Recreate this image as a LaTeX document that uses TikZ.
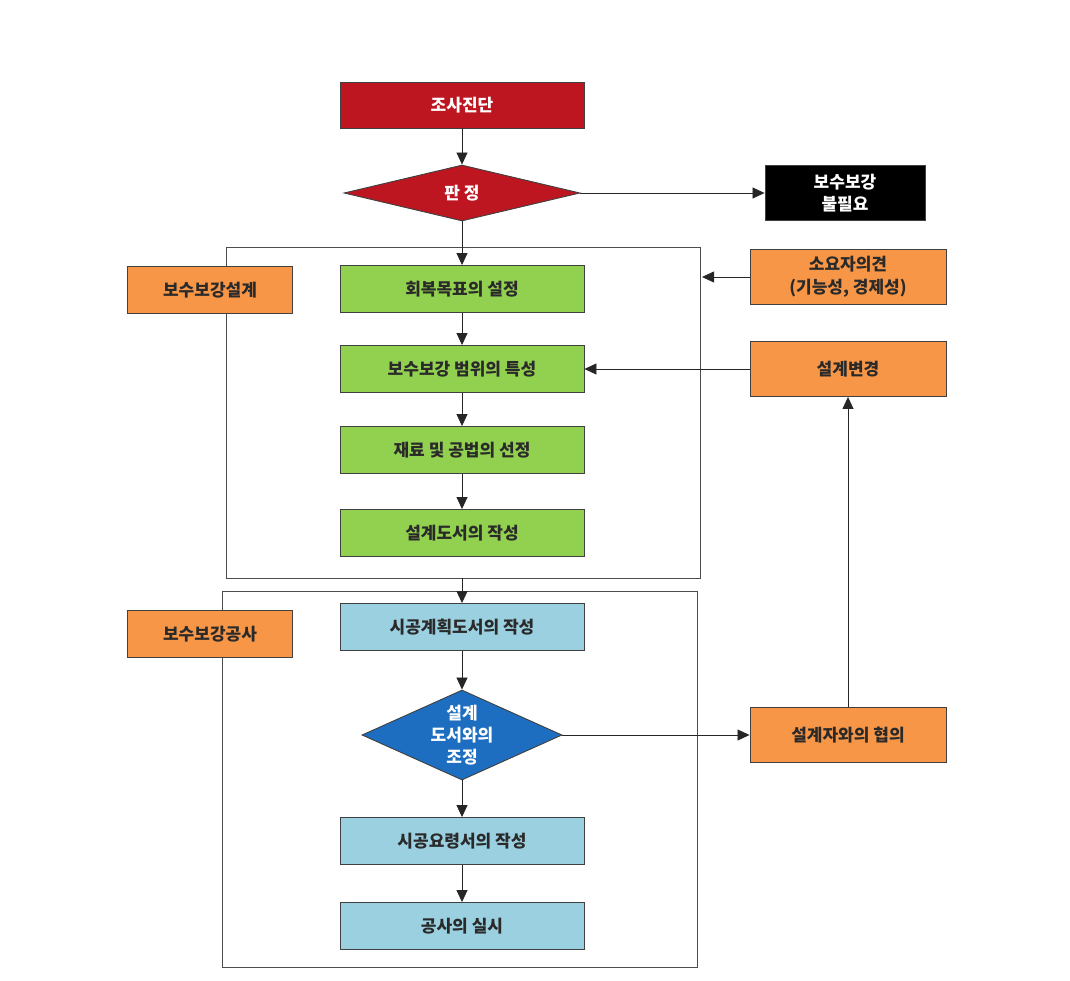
\documentclass[tikz,border=0pt]{standalone}
\usepackage{fontspec}
\setmainfont{Noto Sans CJK KR}
\usetikzlibrary{arrows.meta,shapes.geometric}
\definecolor{cred}{HTML}{BE1620}
\definecolor{cgreen}{HTML}{92D050}
\definecolor{cltblue}{HTML}{9BD0E0}
\definecolor{cblue}{HTML}{1D6EC0}
\definecolor{corange}{HTML}{F79646}
\definecolor{ctext}{HTML}{2A2A2A}
\begin{document}
\begin{tikzpicture}[x=1pt,y=-1pt,
  font=\fontsize{17}{20}\selectfont\bfseries,
  box/.style={draw=black!75,line width=0.9pt,minimum width=244pt,minimum height=47pt,inner sep=0pt,text=ctext,align=center},
  gbox/.style={box,fill=cgreen},
  bbox/.style={box,fill=cltblue},
  obox/.style={box,fill=corange,minimum width=196pt,minimum height=55pt},
  lbox/.style={box,fill=corange,minimum width=165pt,minimum height=47pt},
  frame/.style={draw=black!70,line width=0.9pt},
  dia/.style={diamond,draw=black!75,line width=0.9pt,inner sep=0pt,text=white,align=center},
  arr/.style={draw=black!85,line width=0.8pt,-{Triangle[length=12pt,width=11pt]}}
]
\useasboundingbox (0,0) rectangle (1070,981);
% frames
\draw[frame] (226,247) rectangle (700,578);
\draw[frame] (222,591) rectangle (697,967);
% top
\node[box,fill=cred,text=white,minimum height=46pt] (jd) at (462,105) {조사진단};
\node[dia,fill=cred,minimum width=236pt,minimum height=56pt] (pj) at (462,193) {};
\node[text=white] at (pj.center) {판 정};
\node[box,fill=black,text=white,minimum width=160pt,minimum height=55pt,font=\fontsize{17}{22}\selectfont\bfseries] (nn) at (845,193) {보수보강\\불필요};
% design
\node[lbox] (l1) at (210,290) {보수보강설계};
\node[gbox] (g1) at (462,289) {회복목표의 설정};
\node[gbox] (g2) at (462,369) {보수보강 범위의 특성};
\node[gbox] (g3) at (462,450) {재료 및 공법의 선정};
\node[gbox] (g4) at (462,533) {설계도서의 작성};
% construction
\node[lbox] (l2) at (210,634) {보수보강공사};
\node[bbox] (b1) at (462,627) {시공계획도서의 작성};
\node[dia,fill=cblue,minimum width=200pt,minimum height=90pt] (dd) at (462,735) {};
\node[text=white,align=center,font=\fontsize{17}{22}\selectfont\bfseries] at (dd.center) {설계\\도서와의\\조정};
\node[bbox] (b2) at (462,841) {시공요령서의 작성};
\node[bbox] (b3) at (462,926) {공사의 실시};
% right
\node[obox,font=\fontsize{17}{23}\selectfont\bfseries] (o1) at (848,277) {소요자의견\\(기능성, 경제성)};
\node[obox] (o2) at (848,369) {설계변경};
\node[obox] (o3) at (848,735) {설계자와의 협의};
\coordinate (f1r) at (702,277);
\coordinate (f1b) at (462,578);
% arrows
\draw[arr] (jd) -- (pj.north);
\draw[arr] (pj.east) -- (nn.west);
\draw[arr] (pj.south) -- (g1.north);
\draw[arr] (g1) -- (g2);
\draw[arr] (g2) -- (g3);
\draw[arr] (g3) -- (g4);
\draw[arr] (f1b) -- (b1.north);
\draw[arr] (b1) -- (dd.north);
\draw[arr] (dd.south) -- (b2.north);
\draw[arr] (b2) -- (b3);
\draw[arr] (o1.west) -- (f1r);
\draw[arr] (o2.west) -- (g2.east);
\draw[arr] (dd.east) -- (o3.west);
\draw[arr] (o3.north) -- (o2.south);
\end{tikzpicture}
\end{document}
